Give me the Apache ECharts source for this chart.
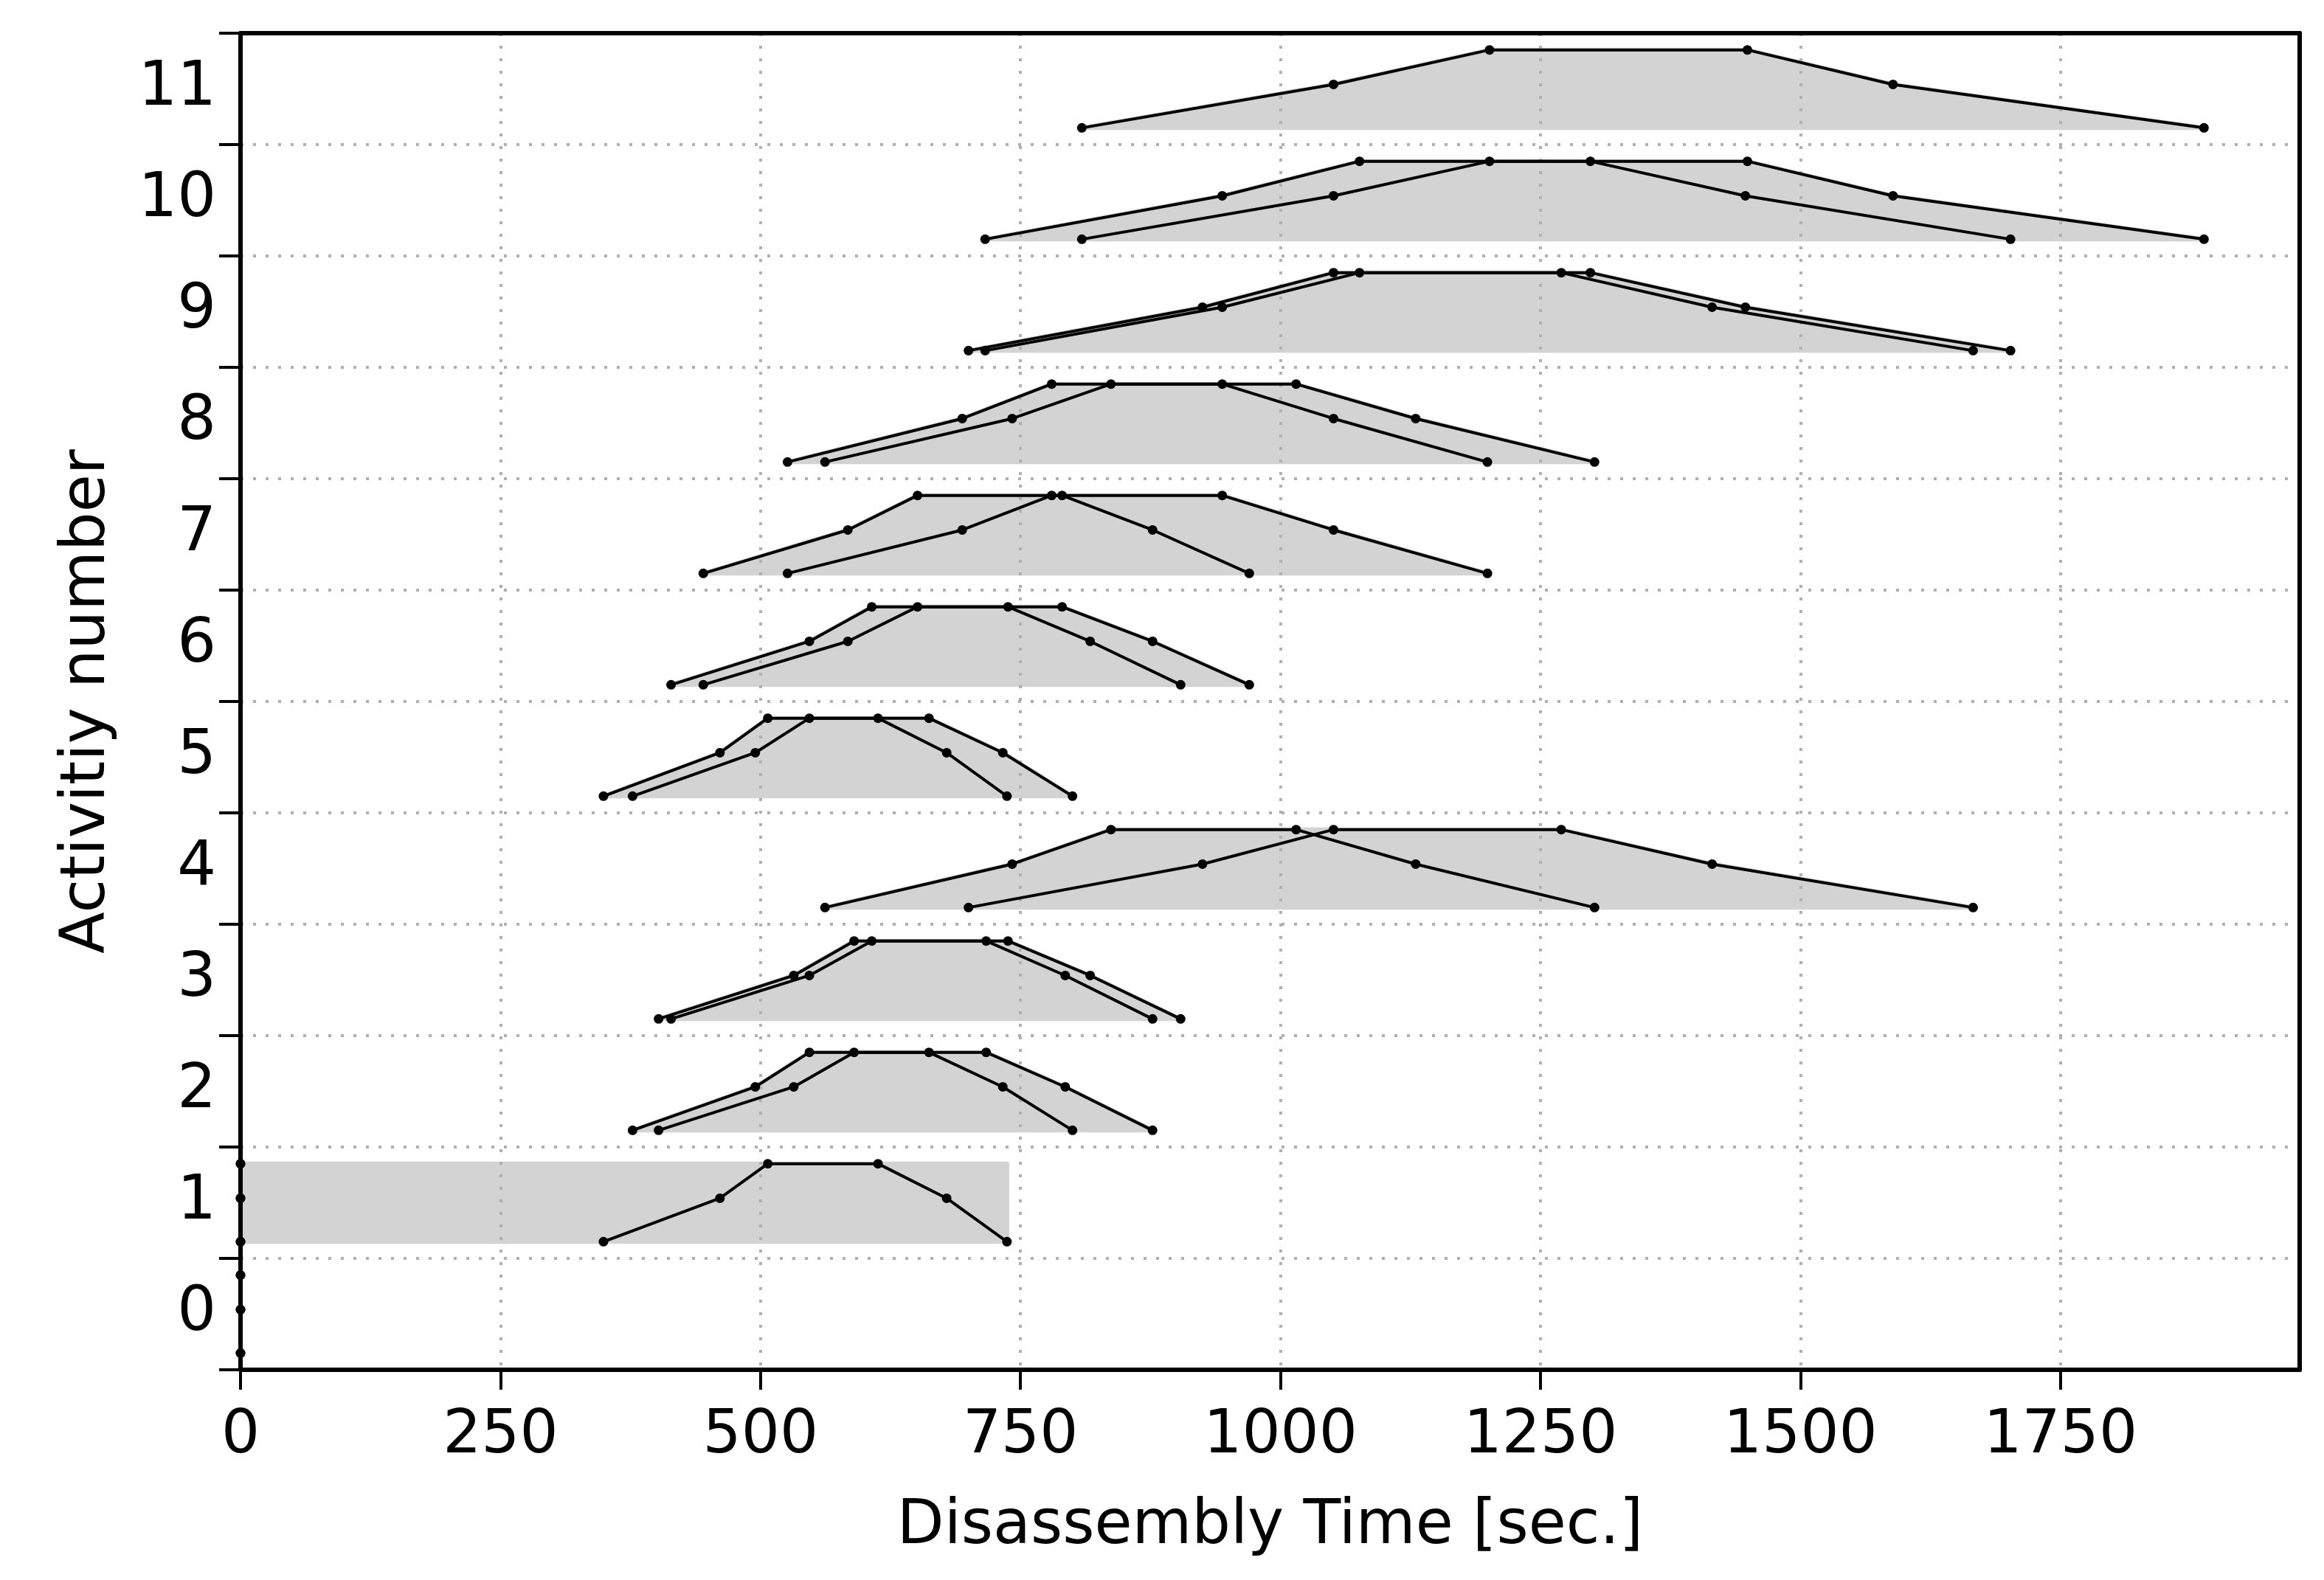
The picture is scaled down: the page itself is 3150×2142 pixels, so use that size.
<!DOCTYPE html>
<html>
<head>
<meta charset="utf-8">
<script src="https://cdn.jsdelivr.net/npm/echarts@6/dist/echarts.min.js"></script>
<style>
html,body{margin:0;padding:0;background:#fff;}
#chart{width:3150px;height:2142px;}
</style>
</head>
<body>
<div id="chart"></div>
<script>
// Fuzzy times (6 points: left-low, left-mid, left-top, right-top, right-mid, right-low) in seconds
const T0  = [0, 0, 0, 0, 0, 0];
const T1  = [349, 461, 507, 613, 679, 737];
const T2  = [377, 495, 547, 662, 733, 800];
const T3  = [402, 532, 590, 717, 793, 877];
const T4  = [414, 547, 607, 738, 817, 904];
const T5  = [445, 584, 651, 790, 877, 970];
const T6  = [526, 694, 780, 944, 1051, 1199];
const T7  = [562, 742, 837, 1015, 1130, 1302];
const T8  = [700, 925, 1051, 1270, 1415, 1666];
const T9  = [716, 944, 1076, 1298, 1447, 1702];
const T10 = [809, 1051, 1201, 1449, 1589, 1888];

// Activities 0..11 : start and finish fuzzy times
const activities  = [0, 1, 2, 3, 4, 5, 6, 7, 8, 9, 10, 11];
const startTimes  = [T0, T0, T2, T3, T7, T1, T4, T5, T6, T8, T9, T10];
const finishTimes = [T0, T1, T3, T4, T8, T2, T5, T6, T7, T9, T10, T10];
// membership levels mapped to vertical offsets within a row
const levelOffsets = [-0.35, 0.04, 0.35, 0.35, 0.04, -0.35];
const rectFillRows = [1];

const xTicks = [0, 250, 500, 750, 1000, 1250, 1500, 1750];
const yLabels = [0, 1, 2, 3, 4, 5, 6, 7, 8, 9, 10, 11];
const yTicks = [-0.5, 0.5, 1.5, 2.5, 3.5, 4.5, 5.5, 6.5, 7.5, 8.5, 9.5, 10.5, 11.5];

const FONT = 'DejaVu Sans';
const series = [];

// fill polygons (envelope from start's left side to finish's right side)
const fillData = activities.map((k, i) => {
  const s = startTimes[i], f = finishTimes[i];
  return [k, s[0], s[1], s[2], f[3], f[4], f[5], rectFillRows.indexOf(k) >= 0 ? 1 : 0];
});
series.push({
  type: 'custom',
  z: -1,
  silent: true,
  clip: true,
  data: fillData,
  renderItem: function (params, api) {
    const k = api.value(0);
    let xs = [api.value(1), api.value(2), api.value(3), api.value(4), api.value(5), api.value(6)];
    if (api.value(7) === 1) {
      xs = [xs[0], xs[0], xs[0], xs[5], xs[5], xs[5]];
    }
    const pts = xs.map((x, j) => api.coord([x, k + levelOffsets[j]]));
    return {
      type: 'polygon',
      shape: { points: pts },
      style: { fill: '#d3d3d3', stroke: '#d3d3d3', lineWidth: 6, lineJoin: 'round' }
    };
  }
});

function addTrap(k, t) {
  series.push({
    type: 'line',
    silent: true,
    animation: false,
    z: 3,
    symbol: 'circle',
    symbolSize: 13,
    showSymbol: true,
    showAllSymbol: true,
    itemStyle: { color: '#000' },
    lineStyle: { color: '#000', width: 4 },
    data: t.map((x, j) => [x, k + levelOffsets[j]])
  });
}
activities.forEach((k, i) => {
  addTrap(k, startTimes[i]);
  if (finishTimes[i] !== startTimes[i]) addTrap(k, finishTimes[i]);
});

const plainNum = v => String(v);
const splitStyle = { color: '#b0b0b0', width: 4, type: [4, 13] };

const chart = echarts.init(document.getElementById('chart'), null, { renderer: 'canvas' });
chart.setOption({
  animation: false,
  backgroundColor: '#fff',
  grid: {
    left: 326, right: 33, top: 45, bottom: 285, show: false
  },
  xAxis: [{
    type: 'value', min: 0, max: 1980,
    name: 'Disassembly Time [sec.]',
    nameLocation: 'middle', nameGap: 172,
    nameTextStyle: { fontFamily: FONT, fontSize: 83, color: '#000' },
    axisLine: { show: true, onZero: false, lineStyle: { color: '#000', width: 6 } },
    axisTick: { show: true, inside: false, length: 27, lineStyle: { color: '#000', width: 4 }, customValues: xTicks },
    axisLabel: { show: true, margin: 50, fontFamily: FONT, fontSize: 82, color: '#000', customValues: xTicks, formatter: plainNum },
    splitLine: { show: true, lineStyle: splitStyle }
  }, {
    type: 'value', min: 0, max: 1980, position: 'top',
    axisLine: { show: true, onZero: false, lineStyle: { color: '#000', width: 6 } },
    axisTick: { show: false }, axisLabel: { show: false }, splitLine: { show: false }
  }],
  yAxis: [{
    type: 'value', min: -0.5, max: 11.5,
    name: 'Activitiy number',
    nameLocation: 'middle', nameGap: 165,
    nameRotate: 90,
    nameTextStyle: { fontFamily: FONT, fontSize: 83, color: '#000' },
    axisLine: { show: true, onZero: false, lineStyle: { color: '#000', width: 6 } },
    axisTick: { show: true, inside: false, length: 29, lineStyle: { color: '#000', width: 4 }, customValues: yTicks },
    axisLabel: { show: true, margin: 33, fontFamily: FONT, fontSize: 83, color: '#000', customValues: yLabels },
    splitLine: { show: true, lineStyle: splitStyle }
  }, {
    type: 'value', min: -0.5, max: 11.5, position: 'right',
    axisLine: { show: true, onZero: false, lineStyle: { color: '#000', width: 6 } },
    axisTick: { show: false }, axisLabel: { show: false }, splitLine: { show: false }
  }],
  series: series
});
</script>
</body>
</html>
